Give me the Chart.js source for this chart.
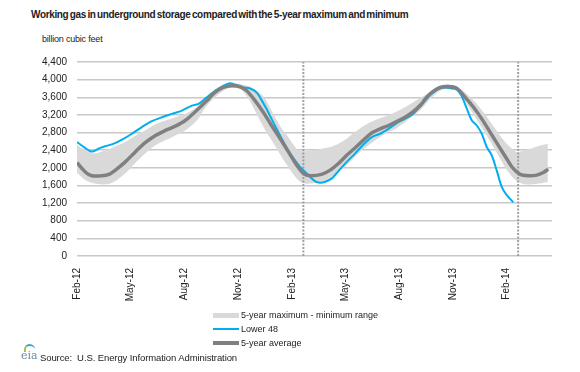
<!DOCTYPE html>
<html lang="en">

<head>
    <meta charset="UTF-8">
    <title>Working gas in underground storage</title>
    <script src="https://cdn.jsdelivr.net/npm/chart.js"></script>
    <style>
        * {
            margin: 0;
            padding: 0;
            box-sizing: border-box;
        }

        body {
            width: 580px;
            height: 372px;
            background: white;
            font-family: Arial, "Liberation Sans", sans-serif;
            color: #222;
            position: relative;
            overflow: hidden;
        }

        #chart {
            position: absolute;
            left: 0;
            top: 0;
        }

        .title {
            position: absolute;
            left: 31px;
            top: 9px;
            font-size: 10px;
            font-weight: bold;
            letter-spacing: -0.35px;
            word-spacing: -1px;
            white-space: nowrap;
        }

        .units {
            position: absolute;
            left: 42px;
            top: 34px;
            font-size: 9px;
            letter-spacing: -0.2px;
        }

        .legend {
            position: absolute;
            left: 213px;
            top: 308px;
            font-size: 9px;
        }

        .legend div {
            height: 14px;
            display: flex;
            align-items: center;
        }

        .legend span.sw {
            display: inline-block;
            width: 26px;
            margin-right: 2px;
        }

        .source {
            position: absolute;
            left: 40px;
            top: 352px;
            font-size: 9.5px;
            letter-spacing: -0.1px;
            white-space: nowrap;
        }

        .logo {
            position: absolute;
            left: 20px;
            top: 345px;
            width: 16px;
            height: 16px;
            font-family: "DejaVu Serif", serif;
            font-size: 11px;
            color: #6a8aa8;
        }

        .logo::before {
            content: "";
            position: absolute;
            left: 4px;
            top: -1px;
            width: 9px;
            height: 6px;
            border-top: 2px solid #3aa0d8;
            border-left: 2px solid #9cc84a;
            border-radius: 8px 8px 0 0;
        }
    </style>
</head>

<body>
    <div class="title">Working gas in underground storage compared with the 5-year maximum and minimum</div>
    <div class="units">billion cubic feet</div>
    <canvas id="chart" width="580" height="372"></canvas>
    <div class="legend" id="legend"></div>
    <div class="logo"><span style="position:absolute;left:1px;top:4px;">eia</span></div>
    <div class="source">Source:&nbsp; U.S. Energy Information Administration</div>

    <script>
        // x values are weeks counted from the start of Feb 2012
        const tickWeeks = [0, 13, 26, 39, 52, 65, 78, 91, 104];
        const tickLabels = ['Feb-12', 'May-12', 'Aug-12', 'Nov-12', 'Feb-13', 'May-13', 'Aug-13', 'Nov-13', 'Feb-14'];
        const markerWeeks = [54.8, 106.8];

        const legendLabels = ['5-year maximum - minimum range', 'Lower 48', '5-year average'];

        // 5-year range (billion cubic feet)
        const bandWeeks = [0, 2, 4, 7, 9, 12, 14, 16.5, 19, 21.4, 23.8, 26.2, 29, 31.4, 35.4, 37.4, 39.5, 41.7, 43.5, 45.3,
            47.3, 49.3, 51.4, 53.2, 54.8, 57.2, 59.2, 61.3, 63.3, 65.3, 67.3, 69.3, 71.4, 73.4, 75.4, 77.4, 79.4, 81.4, 83.4, 85.5,
            88.3, 90.3, 92.3, 94.4, 96.4, 98.4, 100.4, 102.4, 104.4, 106.4, 108.4, 110.4, 112.4, 114];
        const bandMax = [2525, 2398, 2323, 2398, 2473, 2600, 2720, 2850, 2990, 3073, 3148, 3223, 3373, 3600, 3875, 3920, 3898, 3845, 3748, 3598,
            3260, 2923, 2660, 2435, 2380, 2398, 2435, 2473, 2548, 2660, 2810, 2945, 3050, 3125, 3185, 3275, 3373, 3485, 3598, 3725,
            3875, 3883, 3823, 3673, 3485, 3260, 2998, 2735, 2510, 2360, 2398, 2450, 2510, 2548];
        const bandMin = [1895, 1723, 1648, 1625, 1685, 1900, 2098, 2323, 2510, 2623, 2735, 2848, 3073, 3410, 3748, 3823, 3785, 3540, 3223, 2900,
            2600, 2285, 1985, 1760, 1648, 1648, 1685, 1775, 1910, 2060, 2248, 2420, 2570, 2698, 2810, 2900, 3035, 3185, 3335, 3560,
            3770, 3785, 3710, 3448, 3148, 2848, 2548, 2210, 1910, 1700, 1625, 1625, 1648, 1685];

        // Lower 48
        const lowerWeeks = [0, 2, 3.2, 4, 5.2, 6.8, 8.9, 10.9, 13.3, 15.7, 18.1, 20.6, 23, 25.4, 27.8, 29.4, 31.4, 33.4, 35.4, 37,
            38.7, 40.3, 41.9, 43.5, 44.3, 45.9, 47.9, 50, 51.6, 54, 55.2, 56.4, 57.6, 58.8, 60.1, 61.7, 63.3, 65.3, 67.3, 69.3,
            71.4, 73.4, 75.4, 77.4, 79.4, 81.4, 83.4, 85.5, 87.5, 89.1, 90.7, 91.9, 93.1, 94.4, 95.6, 96.8, 98, 99.2, 100.4, 101.6,
            102.8, 104, 105.6];
        const lowerVals = [2585, 2450, 2375, 2375, 2435, 2488, 2548, 2638, 2773, 2923, 3058, 3148, 3223, 3298, 3410, 3448, 3598, 3748, 3860, 3920,
            3875, 3823, 3800, 3710, 3598, 3335, 2960, 2585, 2323, 2023, 1910, 1798, 1700, 1663, 1685, 1760, 1925, 2135, 2323, 2525,
            2698, 2773, 2885, 3013, 3110, 3223, 3425, 3650, 3785, 3823, 3800, 3785, 3635, 3335, 3073, 2960, 2773, 2473, 2285, 1948,
            1573, 1385, 1220];

        // 5-year average
        const avgWeeks = [0, 1.2, 2.4, 3.6, 6, 7.7, 9.3, 11.7, 14.1, 16.5, 19, 21.4, 23.8, 26.2, 28.5, 31.4, 33.4, 35.4, 37.4, 39.5,
            41.1, 43.1, 45.1, 47.1, 49.2, 51.2, 53.2, 54.8, 56.4, 59.2, 61.3, 63.3, 65.3, 67.3, 69.3, 71.4, 73.4, 75.4, 77.4, 79.4,
            81.4, 83.4, 84.3, 85.9, 87.9, 89.9, 91.9, 94, 96, 98, 100, 102, 104, 105.6, 107.3, 109.3, 111.3, 112.9, 114.1];
        const avgVals = [2120, 1985, 1872, 1820, 1820, 1850, 1948, 2135, 2360, 2570, 2735, 2848, 2945, 3073, 3260, 3520, 3710, 3823, 3860, 3838,
            3748, 3523, 3260, 2960, 2660, 2360, 2060, 1873, 1820, 1850, 1948, 2098, 2285, 2450, 2623, 2795, 2885, 2960, 3050, 3148,
            3275, 3448, 3560, 3710, 3823, 3845, 3808, 3598, 3373, 3110, 2810, 2510, 2210, 1985, 1850, 1820, 1835, 1895, 1970];

        const bandColor = '#d9d9d9';
        const lowerColor = '#00aeef';
        const avgColor = '#808080';

        function pts(xs, ys) {
            return xs.map((x, i) => ({ x: x, y: ys[i] }));
        }

        const datasets = [
            { label: 'max', data: pts(bandWeeks, bandMax), borderWidth: 0, backgroundColor: bandColor, fill: '+1', tension: 0.3, order: 5 },
            { label: 'min', data: pts(bandWeeks, bandMin), borderWidth: 0, backgroundColor: bandColor, fill: false, tension: 0.3, order: 5 },
            { label: legendLabels[1], data: pts(lowerWeeks, lowerVals), borderColor: lowerColor, borderWidth: 2, fill: false, tension: 0.25, order: 2 },
            { label: legendLabels[2], data: pts(avgWeeks, avgVals), borderColor: avgColor, borderWidth: 3.5, fill: false, tension: 0.3, order: 1 }
        ];
        // dotted vertical markers, one year apart
        markerWeeks.forEach(w => {
            datasets.push({
                label: 'marker', data: [{ x: w, y: 0 }, { x: w, y: 4400 }],
                borderColor: '#a0a0a0', borderWidth: 2, borderDash: [2, 1.5], fill: false, order: 4
            });
        });

        new Chart(document.getElementById('chart'), {
            type: 'line',
            data: { datasets: datasets },
            options: {
                responsive: false,
                animation: false,
                elements: { point: { radius: 0 } },
                layout: { padding: { top: 62, right: 28, bottom: 0, left: 0 } },
                plugins: {
                    legend: { display: false },
                    tooltip: { enabled: false }
                },
                scales: {
                    x: {
                        type: 'linear',
                        min: 0,
                        max: 115,
                        grid: { display: false },
                        border: { display: false },
                        afterBuildTicks: (scale) => { scale.ticks = tickWeeks.map(v => ({ value: v })); },
                        afterFit: (scale) => { scale.height = 116; },
                        ticks: {
                            minRotation: 90,
                            maxRotation: 90,
                            autoSkip: false,
                            padding: 4,
                            color: '#222',
                            font: { family: 'Arial', size: 10 },
                            callback: (v) => tickLabels[tickWeeks.indexOf(v)]
                        }
                    },
                    y: {
                        min: 0,
                        max: 4400,
                        grid: { color: '#c8c8c8', lineWidth: 1.5, drawTicks: false },
                        border: { display: false },
                        afterFit: (scale) => { scale.width = 77; },
                        ticks: {
                            stepSize: 400,
                            padding: 10,
                            color: '#222',
                            font: { family: 'Arial', size: 10 },
                            callback: (v) => v.toLocaleString('en-US')
                        }
                    }
                }
            }
        });

        // legend in the order of the original
        const swatches = [
            'height:5px;background:' + bandColor,
            'height:2px;background:' + lowerColor,
            'height:3.5px;background:' + avgColor
        ];
        document.getElementById('legend').innerHTML = legendLabels
            .map((t, i) => '<div><span class="sw" style="' + swatches[i] + '"></span>' + t + '</div>')
            .join('');
    </script>
</body>

</html>
